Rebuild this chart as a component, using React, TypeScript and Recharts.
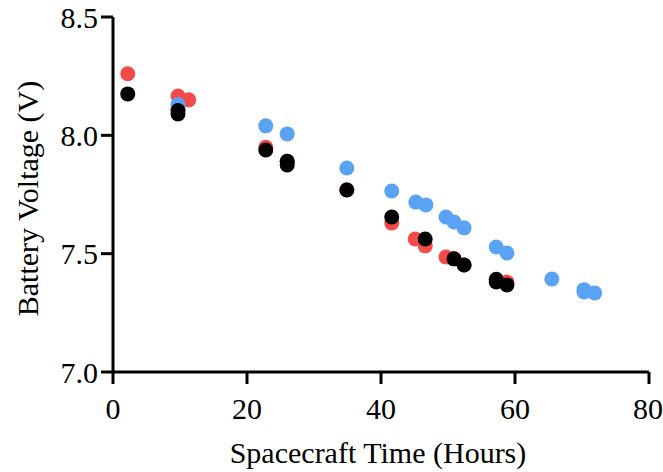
import { ScatterChart, Scatter, XAxis, YAxis, Label } from 'recharts';

// Hours / volts
const redHours = [2.2, 9.7, 11.3, 22.8, 26.0, 34.9, 41.6, 45.1, 46.6, 49.7, 50.9, 52.4, 57.2, 58.8];
const redVolts = [8.26, 8.166, 8.15, 7.95, 7.89, 7.77, 7.63, 7.562, 7.533, 7.486, 7.478, 7.452, 7.385, 7.38];

const blueHours = [9.7, 22.8, 26.0, 34.9, 41.6, 45.2, 46.7, 49.7, 50.9, 52.4, 57.2, 58.8, 65.5, 70.3, 70.3, 71.9];
const blueVolts = [8.13, 8.04, 8.006, 7.862, 7.765, 7.718, 7.706, 7.655, 7.634, 7.609, 7.528, 7.503, 7.393, 7.348, 7.338, 7.334];

const blackHours = [2.2, 9.7, 9.7, 22.8, 26.0, 26.0, 34.9, 41.6, 46.6, 50.9, 52.4, 57.2, 57.2, 58.8];
const blackVolts = [8.175, 8.105, 8.09, 7.938, 7.89, 7.875, 7.769, 7.655, 7.562, 7.478, 7.452, 7.392, 7.38, 7.368];

const xTicks = [0, 20, 40, 60, 80];
const yTicks = [7.0, 7.5, 8.0, 8.5];

const toPoints = (xs: number[], ys: number[]) => xs.map((x, i) => ({ x, y: ys[i] }));

const FONT = '"Liberation Serif", "Times New Roman", serif';
const FS = 30;
const axisStroke = { stroke: '#000', strokeWidth: 3 };

const dot = (fill: string) => (p: any) => <circle cx={p.cx} cy={p.cy} r={7.5} fill={fill} />;

export default function App() {
  return (
    <div style={{ position: 'absolute', left: 0, top: 0, background: '#fff' }}>
      <ScatterChart width={663} height={472} margin={{ top: 17, right: 14, bottom: 0, left: 0 }}>
        <XAxis
          type="number"
          dataKey="x"
          domain={[0, 80]}
          ticks={xTicks}
          height={100}
          axisLine={axisStroke}
          tickLine={axisStroke}
          tickSize={12}
          tickMargin={14}
          tick={{ fill: '#000', fontSize: FS, fontFamily: FONT }}
        >
          <Label
            content={({ viewBox }: any) => (
              <text
                x={viewBox.x + viewBox.width / 2 - 3}
                y={viewBox.y + 91}
                textAnchor="middle"
                fontSize={FS}
                fontFamily={FONT}
                fill="#000"
              >
                Spacecraft Time (Hours)
              </text>
            )}
          />
        </XAxis>
        <YAxis
          type="number"
          dataKey="y"
          domain={[7, 8.5]}
          ticks={yTicks}
          width={113}
          axisLine={axisStroke}
          tickLine={axisStroke}
          tickSize={12}
          tickMargin={3}
          tickFormatter={(v: number) => v.toFixed(1)}
          tick={{ fill: '#000', fontSize: FS, fontFamily: FONT }}
        >
          <Label
            content={({ viewBox }: any) => {
              const cx = 38;
              const cy = viewBox.y + viewBox.height / 2 + 4;
              return (
                <text
                  x={cx}
                  y={cy}
                  transform={`rotate(-90, ${cx}, ${cy})`}
                  textAnchor="middle"
                  fontSize={FS}
                  fontFamily={FONT}
                  fill="#000"
                >
                  Battery Voltage (V)
                </text>
              );
            }}
          />
        </YAxis>
        <Scatter data={toPoints(redHours, redVolts)} fill="#f44a4a" shape={dot('#f44a4a')} isAnimationActive={false} />
        <Scatter data={toPoints(blueHours, blueVolts)} fill="#5aa2f4" shape={dot('#5aa2f4')} isAnimationActive={false} />
        <Scatter data={toPoints(blackHours, blackVolts)} fill="#000" shape={dot('#000')} isAnimationActive={false} />
      </ScatterChart>
    </div>
  );
}
